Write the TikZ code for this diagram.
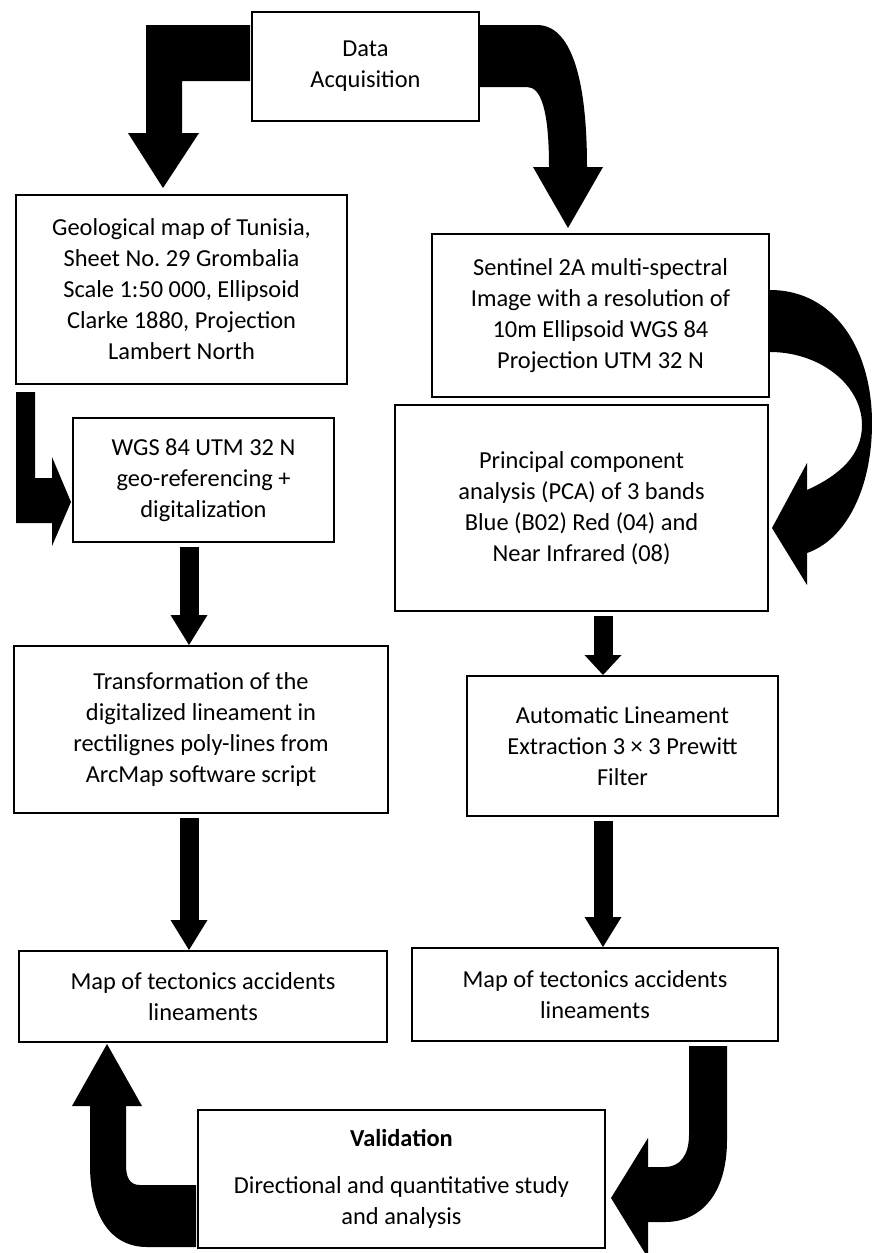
\documentclass[tikz,border=0pt]{standalone}
\usepackage{fontspec}
\setmainfont{Carlito}
\usetikzlibrary{arrows.meta}
\frenchspacing

\begin{document}
\begin{tikzpicture}[x=0.5pt,y=-0.5pt]
        \tikzstyle{caixa}=[draw=black, line width=1pt, fill=white, align=center, inner sep=0pt, font=\fontsize{12.2}{15.5}\selectfont]
        \tikzstyle{seta}=[line width=9.5pt, -{Triangle[width=18.5pt,length=15pt,line width=0pt]}, shorten <=2pt]
        \tikzstyle{bloco}=[fill=black]

        \useasboundingbox (0,0) rectangle (872,1253);

        % eixos das setas retas
        \coordinate (E) at (189,0);
        \coordinate (F) at (603,0);

        \node[caixa, minimum width=113.5pt, minimum height=54.5pt] (data) at (365.5,66.5) {Data\\Acquisition};
        \node[caixa, minimum width=165.5pt, minimum height=94.5pt] (geo) at (181.5,289.5) {Geological map of Tunisia,\\Sheet No. 29 Grombalia\\Scale 1:50 000, Ellipsoid\\Clarke 1880, Projection\\Lambert North};
        \node[caixa, minimum width=168.5pt, minimum height=81.5pt] (sent) at (600.5,315.5) {Sentinel 2A multi-spectral\\Image with a resolution of\\10m Ellipsoid WGS 84\\Projection UTM 32 N};
        \node[caixa, minimum width=130.5pt, minimum height=62pt] (wgs) at (203.5,480) {WGS 84 UTM 32 N\\geo-referencing +\\digitalization};
        \node[caixa, minimum width=186.5pt, minimum height=103pt] (pca) at (581.5,508) {Principal component\\analysis (PCA) of 3 bands\\Blue (B02) Red (04) and\\Near Infrared (08)};
        \node[caixa, minimum width=187pt, minimum height=83.5pt] (trans) at (201,729.5) {Transformation of the\\digitalized lineament in\\rectilignes poly-lines from\\ArcMap software script};
        \node[caixa, minimum width=155.5pt, minimum height=70pt] (auto) at (622.5,746) {Automatic Lineament\\Extraction 3 × 3 Prewitt\\Filter};
        \node[caixa, minimum width=184pt, minimum height=45.5pt] (mapl) at (203,996.5) {Map of tectonics accidents\\lineaments};
        \node[caixa, minimum width=183pt, minimum height=46.5pt] (mapr) at (595,994.5) {Map of tectonics accidents\\lineaments};
        \node[caixa, minimum width=203.5pt, minimum height=69pt] (valid) at (401.5,1179) {\bfseries Validation\\[8pt]Directional and quantitative study\\and analysis};

        % setas retas
        \draw[seta] (wgs.south -| E) -- (trans.north -| E);
        \draw[seta] (trans.south -| E) -- (mapl.north -| E);
        \draw[seta, -{Triangle[width=18.5pt,length=10pt,line width=0pt]}] (pca.south -| F) -- (auto.north -| F);
        \draw[seta] (auto.south -| F) -- (mapr.north -| F);

        % setas em L e curvas
        \fill[bloco] (250,25) -- (146,25) -- (146,133) -- (128,133) -- (163,188) -- (199,133) -- (182,133) -- (182,81) -- (250,81) -- cycle;
        \fill[bloco] (480,25) -- (537,25) .. controls (570,25) and (587,75) .. (587,167) -- (603,167) -- (568,228) -- (533,167) -- (549,167) .. controls (549,110) and (541,87) .. (527,87) -- (480,87) -- cycle;
        \fill[bloco] (16,392) -- (35,392) -- (35,478) -- (52,478) -- (52,457) -- (71,502) -- (52,546) -- (52,523) -- (16,523) -- cycle;
        \fill[bloco] (770,290) .. controls (835,290) and (872,350) .. (872,423) .. controls (872,490) and (845,540) .. (807,553) -- (807,585) -- (772,528) -- (807,463) -- (807,490) .. controls (840,475) and (862,455) .. (862,425) .. controls (862,385) and (820,352) .. (770,352) -- cycle;
        \fill[bloco] (727,1046) -- (727,1140) .. controls (727,1195) and (700,1222) .. (665,1222) -- (648,1222) -- (648,1258) -- (611,1198) -- (648,1138) -- (648,1167) -- (665,1167) .. controls (680,1167) and (689,1155) .. (689,1135) -- (689,1046) -- cycle;
        \fill[bloco] (196,1185) -- (140,1185) .. controls (130,1185) and (126,1178) .. (126,1165) -- (126,1106) -- (142,1106) -- (107,1044) -- (72,1106) -- (90,1106) -- (90,1165) .. controls (90,1215) and (110,1247) .. (147,1247) -- (196,1247) -- cycle;
      \end{tikzpicture}
\end{document}
